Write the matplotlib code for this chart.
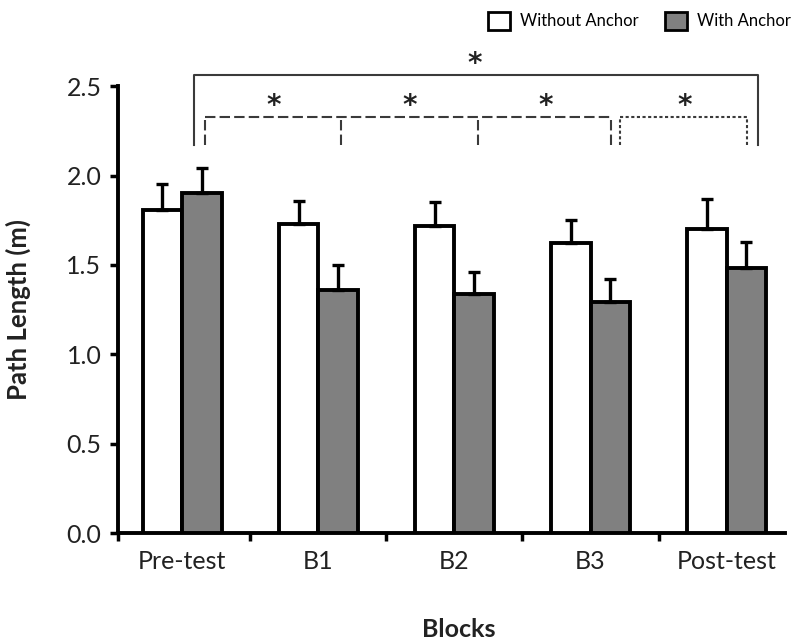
import numpy as np
import matplotlib.pyplot as plt
from matplotlib.patches import Patch

plt.rcParams['font.family'] = ['Lato', 'DejaVu Sans']

blocks = ['Pre-test', 'B1', 'B2', 'B3', 'Post-test']
without_anchor = [1.81, 1.73, 1.72, 1.62, 1.70]
without_err = [0.14, 0.13, 0.13, 0.13, 0.17]
with_anchor = [1.90, 1.36, 1.34, 1.29, 1.48]
with_err = [0.14, 0.14, 0.12, 0.13, 0.15]

x = np.arange(len(blocks))
w = 0.29

fig = plt.figure(figsize=(7.98, 6.43), dpi=100)
ax = fig.add_axes([0.148, 0.171, 0.836, 0.695])

ekw = dict(elinewidth=2.4, capsize=4, capthick=2.4, ecolor='black')
ax.bar(x - w / 2, without_anchor, w, color='white', edgecolor='black', linewidth=2.8,
       yerr=[np.zeros(5), without_err], error_kw=ekw, zorder=3)
ax.bar(x + w / 2, with_anchor, w, color='#808080', edgecolor='black', linewidth=2.8,
       yerr=[np.zeros(5), with_err], error_kw=ekw, zorder=3)

ax.set_xlim(-0.47, 4.43)
ax.set_ylim(0, 2.5)
ax.set_yticks([0, 0.5, 1.0, 1.5, 2.0, 2.5])
ax.set_yticklabels(['0.0', '0.5', '1.0', '1.5', '2.0', '2.5'])
ax.set_xticks([-0.47, 0.5, 1.5, 2.5, 3.5])
ax.set_xticklabels([])
ax.set_xticks(x, minor=True)
ax.set_xticklabels(blocks, minor=True)
ax.tick_params(axis='x', which='minor', length=0, pad=12, labelsize=18, labelcolor='#222222')
ax.tick_params(axis='x', which='major', length=6, width=2.5, direction='out')
ax.tick_params(axis='y', length=6, width=2.5, direction='out', labelsize=18, pad=6,
               labelcolor='#222222')
for s in ['top', 'right']:
    ax.spines[s].set_visible(False)
for s in ['left', 'bottom']:
    ax.spines[s].set_linewidth(2.8)

ax.set_ylabel('Path Length (m)', fontsize=18.5, fontweight='bold', color='#222222')
ax.yaxis.set_label_coords(-0.13, 0.5)
ax.set_xlabel('Blocks', fontsize=18, fontweight='bold', color='#222222')
ax.xaxis.set_label_coords(0.51, -0.19)

# significance brackets
lo = 2.17
top = 2.56
mid = 2.33
bc = '#3a3a3a'
ax.plot([0.09, 0.09, 4.23, 4.23], [lo, top, top, lo], color=bc, lw=1.5, clip_on=False)
star = dict(ha='center', va='center', fontsize=20, family='DejaVu Sans', fontweight='bold',
            color='#222222', clip_on=False)
ax.text(2.15, 2.625, '*', **star)

dash = [0.17, 1.17, 2.17, 3.15]
ax.plot([dash[0], dash[-1]], [mid, mid], color=bc, lw=1.5, ls=(0, (5, 2)), clip_on=False)
for d in dash:
    ax.plot([d, d], [lo, mid], color=bc, lw=1.5, ls=(0, (5, 2)), clip_on=False)
dot = [3.22, 4.15]
ax.plot([dot[0], dot[1]], [mid, mid], color=bc, lw=1.5, ls=(0, (1.5, 1.2)), clip_on=False)
for d in dot:
    ax.plot([d, d], [lo, mid], color=bc, lw=1.5, ls=(0, (1.5, 1.2)), clip_on=False)
for sx in [0.67, 1.67, 2.67, 3.69]:
    ax.text(sx, 2.39, '*', **star)

handles = [Patch(facecolor='white', edgecolor='black', linewidth=2, label='Without Anchor'),
           Patch(facecolor='#808080', edgecolor='black', linewidth=2, label='With Anchor')]
fig.legend(handles=handles, ncol=2, loc='upper right', bbox_to_anchor=(1.01, 1.005),
           frameon=False, fontsize=12, handlelength=1.3, handleheight=1.3,
           handletextpad=0.6, columnspacing=1.6)

fig.savefig('out.png', dpi=100)
